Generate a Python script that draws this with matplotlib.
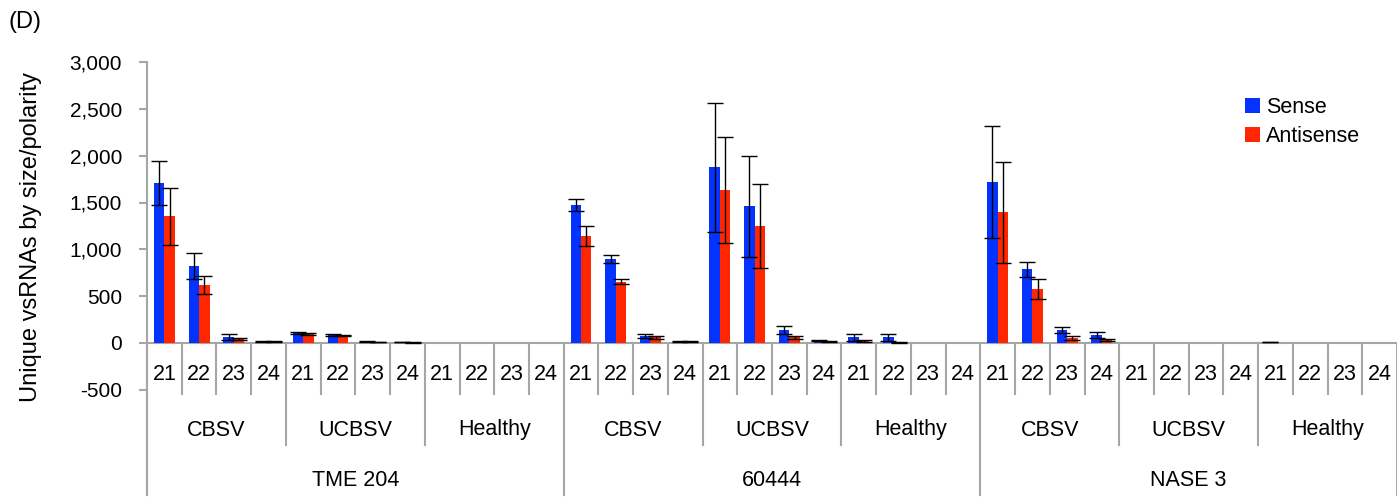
import numpy as np
import matplotlib
matplotlib.use("Agg")
import matplotlib.pyplot as plt
from matplotlib.ticker import FuncFormatter

plt.rcParams["font.family"] = ["Liberation Sans", "DejaVu Sans"]

cultivars = ["TME 204", "60444", "NASE 3"]
viruses = ["CBSV", "UCBSV", "Healthy"]
sizes = ["21", "22", "23", "24"]

# per cultivar: CBSV 21-24, UCBSV 21-24, Healthy 21-24
sense = [1705, 822, 67, 20,   103, 85, 18, 8,      5, 4, 0, 0,
         1473, 897, 75, 20,   1875, 1459, 139, 25, 61, 61, 0, 0,
         1722, 786, 139, 85,  5, 5, 4, 0,          8, 5, 0, 0]
sense_err = [235, 140, 33, 6,    10, 8, 4, 2,       0, 0, 0, 0,
             60, 40, 20, 4,      690, 540, 45, 5,   40, 40, 0, 0,
             600, 80, 35, 32,    0, 0, 0, 0,        2, 0, 0, 0]
antisense = [1355, 619, 46, 15,  97, 80, 10, 5,     5, 0, 0, 0,
             1142, 655, 60, 15,  1633, 1252, 61, 15, 25, 5, 0, 0,
             1395, 573, 57, 32,  5, 5, 0, 0,         5, 5, 0, 0]
antisense_err = [305, 95, 10, 4,  8, 6, 3, 2,       0, 0, 0, 0,
                 110, 30, 12, 4,  570, 450, 17, 4,  10, 3, 0, 0,
                 540, 105, 22, 8,  0, 0, 0, 0,      0, 0, 0, 0]

BLUE = "#0433FF"
RED = "#FF2600"
GREY = "#A6A6A6"

sense = np.array(sense, float); antisense = np.array(antisense, float)
sense_err = np.array(sense_err, float); antisense_err = np.array(antisense_err, float)
n = len(sense)
x = np.arange(n)
w = 0.30
PX = 281 / 3000          # pixels per unit on the value axis

fig = plt.figure(figsize=(13.97, 5.0), dpi=100)
# bottom of axes sits at the lowest separator; 0 at y=343 px, 3000 at y=62 px
ax = fig.add_axes([147 / 1397, 5 / 500, 1 - 147 / 1397, (495 - 62) / 500])
ymin = -(495 - 343) / PX
ax.set_ylim(ymin, 3000)
ax.set_xlim(-0.5, n - 0.5)

ax.bar(x - w / 2, sense, w, color=BLUE, label="Sense", zorder=2)
ax.bar(x + w / 2, antisense, w, color=RED, label="Antisense", zorder=2)
m = sense_err > 0
ax.errorbar(x[m] - w / 2, sense[m], yerr=sense_err[m], fmt="none", ecolor="black",
            elinewidth=1.0, capsize=5.5, capthick=1.0, zorder=3)
m = antisense_err > 0
ax.errorbar(x[m] + w / 2, antisense[m], yerr=antisense_err[m], fmt="none", ecolor="black",
            elinewidth=1.0, capsize=5.5, capthick=1.0, zorder=3)

# y axis
for s in ["top", "right", "bottom"]:
    ax.spines[s].set_visible(False)
ax.spines["left"].set_color(GREY)
ax.spines["left"].set_linewidth(1.5)
ax.set_yticks(np.arange(-500, 3001, 500))
ax.yaxis.set_major_formatter(FuncFormatter(lambda v, p: f"{v:,.0f}"))
ax.tick_params(axis="y", direction="out", length=6, width=1.5, color=GREY,
               labelsize=15, pad=12)
ax.set_xticks([])
ax.set_ylabel("Unique vsRNAs by size/polarity", fontsize=17)
ax.yaxis.set_label_coords((42 - 147) / 1250, (495 - 237) / 433)

# multi-level category axis
ax.axhline(0, color=GREY, lw=1.5, zorder=1)
lvl1 = -(394 - 343) / PX
lvl2 = -(445 - 343) / PX
for b in range(n + 1):
    edge = b - 0.5
    if b % 12 == 0:
        bottom = ymin
    elif b % 4 == 0:
        bottom = lvl2
    else:
        bottom = lvl1
    ax.plot([edge, edge], [0, bottom], color=GREY, lw=1.5, clip_on=False, zorder=1)

y_size = -(375 - 343) / PX
y_vir = -(430 - 343) / PX
y_cul = -(480 - 343) / PX
for i in range(n):
    ax.text(i, y_size, sizes[i % 4], ha="center", va="center", fontsize=15.5)
for g in range(9):
    ax.text(g * 4 + 1.5, y_vir, viruses[g % 3], ha="center", va="center", fontsize=15.5)
for c in range(3):
    ax.text(c * 12 + 5.5, y_cul, cultivars[c], ha="center", va="center", fontsize=15.5)

leg = ax.legend(loc="upper left", bbox_to_anchor=(1236 / 1397, 1 - 88 / 500),
                bbox_transform=fig.transFigure, frameon=False, fontsize=15.5,
                handlelength=0.7, handleheight=0.7, handletextpad=0.3,
                labelspacing=0.4, borderaxespad=0)

fig.text(8 / 1397, 1 - 22 / 500, "(D)", fontsize=17, ha="left", va="center")

fig.savefig("out.png", dpi=100, facecolor="white")
